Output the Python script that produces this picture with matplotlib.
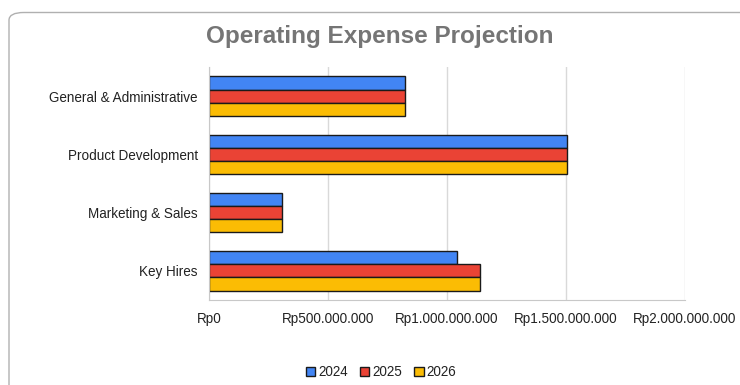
import matplotlib.pyplot as plt
import numpy as np
from matplotlib.patches import FancyBboxPatch
from matplotlib.ticker import FuncFormatter

plt.rcParams['font.family'] = ['Liberation Sans', 'DejaVu Sans']

categories = ['General & Administrative', 'Product Development', 'Marketing & Sales', 'Key Hires']
years = ['2024', '2025', '2026']
values_2024 = [823000000, 1505000000, 307000000, 1042000000]
values_2025 = [823000000, 1505000000, 307000000, 1140000000]
values_2026 = [823000000, 1505000000, 307000000, 1140000000]
colors = ['#4285F4', '#EA4335', '#FBBC04']


def rupiah(x, pos):
    return 'Rp' + '{:,.0f}'.format(x).replace(',', '.')


fig = plt.figure(figsize=(7.4, 3.85), dpi=100)
fig.patch.set_facecolor('white')
# card outline, only the top-left corner is inside the picture
border = FancyBboxPatch((9 / 740, -0.1), 1.1, 1.1 - 12.5 / 385,
                        boxstyle='round,pad=0,rounding_size=0.02',
                        transform=fig.transFigure, facecolor='white',
                        edgecolor='#b0b0b0', linewidth=1.0, zorder=-5)
fig.patches.append(border)

ax = fig.add_axes([209 / 740, 1 - 300 / 385, 476 / 740, 233 / 385])
ax.set_zorder(2)
ax.patch.set_alpha(0)
y = np.arange(len(categories))
h = 0.225
for i, (vals, c, lab) in enumerate(zip([values_2024, values_2025, values_2026], colors, years)):
    ax.barh(y + (i - 1) * h, vals, height=h, color=c, edgecolor='#1a1a1a',
            linewidth=1.0, label=lab, zorder=3)

ax.set_ylim(3.5, -0.5)
ax.set_xlim(0, 2000000000)
ax.set_xticks(np.arange(0, 2000000001, 500000000))
ax.xaxis.set_major_formatter(FuncFormatter(rupiah))
ax.set_yticks(y)
ax.set_yticklabels(categories)
ax.tick_params(axis='both', length=0, labelsize=9.75, colors='#222222')
ax.tick_params(axis='x', pad=9)
ax.tick_params(axis='y', pad=8)
ax.grid(axis='x', color='#d9d9d9', linewidth=1.0, zorder=0)
for s in ['top', 'right']:
    ax.spines[s].set_visible(False)
for s in ['left', 'bottom']:
    ax.spines[s].set_color('#c8c8c8')
    ax.spines[s].set_zorder(4)

fig.text(0.513, 1 - 37 / 385, 'Operating Expense Projection', ha='center', va='center',
         fontsize=17.5, fontweight='bold', color='#757575')

leg = fig.legend(loc='center', bbox_to_anchor=(0.515, 1 - 372 / 385), ncol=3, frameon=False,
                 fontsize=9.75, handlelength=0.7, handleheight=0.7, handletextpad=0.2,
                 columnspacing=0.9)
for t in leg.get_texts():
    t.set_color('#222222')

fig.savefig('out.png', dpi=100)
